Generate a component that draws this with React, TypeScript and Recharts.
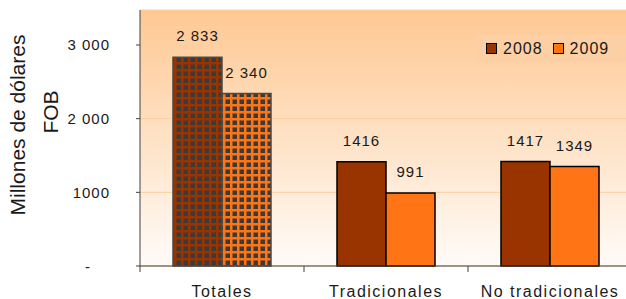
import { BarChart, Bar, XAxis, YAxis, CartesianGrid, Legend, LabelList, Cell } from 'recharts';

const FONT = '"Liberation Sans", Arial, sans-serif';

const categories = ['Totales', 'Tradicionales', 'No tradicionales'];
const values2008 = [2833, 1416, 1417];
const values2009 = [2340, 991, 1349];
const labels2008 = ['2 833', '1416', '1417'];
const labels2009 = ['2 340', '991', '1349'];
const seriesNames = ['2008', '2009'];
const seriesColors = ['#993300', '#ff7415'];
const yTicks = [0, 1000, 2000, 3000];
const yTickLabels = ['-', '1000', '2 000', '3 000'];

const data = categories.map((name, i) => ({
  name,
  y2008: values2008[i],
  y2009: values2009[i],
  l2008: labels2008[i],
  l2009: labels2009[i],
}));

const ValueLabel = (props: any) => {
  const { x, y, width, value } = props;
  return (
    <text
      x={x + width / 2}
      y={y - 16}
      textAnchor="middle"
      fontSize={15}
      letterSpacing={1}
      fill="#1a1a1a"
      fontFamily={FONT}
    >
      {value}
    </text>
  );
};

const YTick = (props: any) => {
  const { x, y, payload } = props;
  const label = yTickLabels[yTicks.indexOf(payload.value)];
  return (
    <text
      x={label === '-' ? x - 19 : x}
      y={y}
      dy={5.5}
      textAnchor="end"
      fontSize={15}
      letterSpacing={1}
      fill="#1a1a1a"
      fontFamily={FONT}
    >
      {label}
    </text>
  );
};

const XTick = (props: any) => {
  const { x, y, payload, width } = props;
  const band = (width || 492) / categories.length;
  return (
    <g>
      <line x1={x - band / 2} x2={x - band / 2} y1={y} y2={y + 6} stroke="#404040" />
      <text
        x={x}
        y={y + 31}
        textAnchor="middle"
        fontSize={16}
        letterSpacing={1.5}
        fill="#1a1a1a"
        fontFamily={FONT}
      >
        {payload.value}
      </text>
    </g>
  );
};

const YLabel = () => (
  <g fontFamily={FONT} fontSize={21} fill="#1a1a1a">
    <text transform="translate(25,125) rotate(-90)" textAnchor="middle">
      Millones de dólares
    </text>
    <text transform="translate(58,112) rotate(-90)" textAnchor="middle">
      FOB
    </text>
  </g>
);

const LegendBox = () => (
  <div
    style={{
      width: 150,
      height: 27,
      background: '#fdcfa4',
      display: 'flex',
      alignItems: 'center',
      fontFamily: FONT,
      fontSize: 16,
      letterSpacing: 1,
      color: '#1a1a1a',
    }}
  >
    {seriesNames.map((name, i) => (
      <div key={name} style={{ display: 'flex', alignItems: 'center', marginLeft: 10 }}>
        <span
          style={{
            width: 9,
            height: 9,
            background: seriesColors[i],
            border: '1.5px solid #000',
            marginRight: 6,
          }}
        />
        <span>{name}</span>
      </div>
    ))}
  </div>
);

export default function App() {
  return (
    <div
      style={{
        position: 'absolute',
        left: 0,
        top: 0,
        width: 626,
        height: 299,
        overflow: 'hidden',
        background: '#fff',
      }}
    >
      <BarChart
        width={640}
        height={299}
        data={data}
        margin={{ top: 10, right: 8, left: 0, bottom: 0 }}
        barGap={0}
      >
        <defs>
          <linearGradient id="bgGrad" x1="0" y1="0" x2="0" y2="1">
            <stop offset="0%" stopColor="#fec892" />
            <stop offset="100%" stopColor="#fffbf8" />
          </linearGradient>
          <pattern id="pat2008" width="7" height="7" patternUnits="userSpaceOnUse">
            <rect width="7" height="7" fill="#993300" />
            <rect x="1.5" y="1.5" width="4.5" height="4.5" fill="#3a3a3a" />
          </pattern>
          <pattern id="pat2009" width="7" height="7" patternUnits="userSpaceOnUse">
            <rect width="7" height="7" fill="#ff7415" />
            <rect x="1.5" y="1.5" width="4.5" height="4.5" fill="#3a3a3a" />
          </pattern>
        </defs>
        <CartesianGrid vertical={false} stroke="#fbcf9f" fill="url(#bgGrad)" fillOpacity={1} />
        <XAxis
          dataKey="name"
          height={33}
          axisLine={{ stroke: '#404040' }}
          tickLine={false}
          tickSize={0}
          tickMargin={0}
          tick={<XTick />}
          interval={0}
        />
        <YAxis
          width={140}
          domain={[0, 3475]}
          ticks={yTicks}
          tickSize={4}
          tickMargin={26}
          axisLine={{ stroke: '#404040' }}
          tickLine={{ stroke: '#404040' }}
          tick={<YTick />}
          label={{ content: <YLabel /> }}
        />
        <Legend
          layout="horizontal"
          align="center"
          verticalAlign="middle"
          content={<LegendBox />}
          wrapperStyle={{ top: 35, left: 476, width: 150, height: 27 }}
        />
        <Bar dataKey="y2008" barSize={49} stroke="#000" strokeWidth={1.5} isAnimationActive={false}>
          {data.map((d, i) => (
            <Cell
              key={d.name}
              fill={i === 0 ? 'url(#pat2008)' : seriesColors[0]}
              stroke={i === 0 ? '#4a4a4a' : '#000'}
            />
          ))}
          <LabelList dataKey="l2008" content={<ValueLabel />} />
        </Bar>
        <Bar dataKey="y2009" barSize={49} stroke="#000" strokeWidth={1.5} isAnimationActive={false}>
          {data.map((d, i) => (
            <Cell
              key={d.name}
              fill={i === 0 ? 'url(#pat2009)' : seriesColors[1]}
              stroke={i === 0 ? '#4a4a4a' : '#000'}
            />
          ))}
          <LabelList dataKey="l2009" content={<ValueLabel />} />
        </Bar>
      </BarChart>
    </div>
  );
}
